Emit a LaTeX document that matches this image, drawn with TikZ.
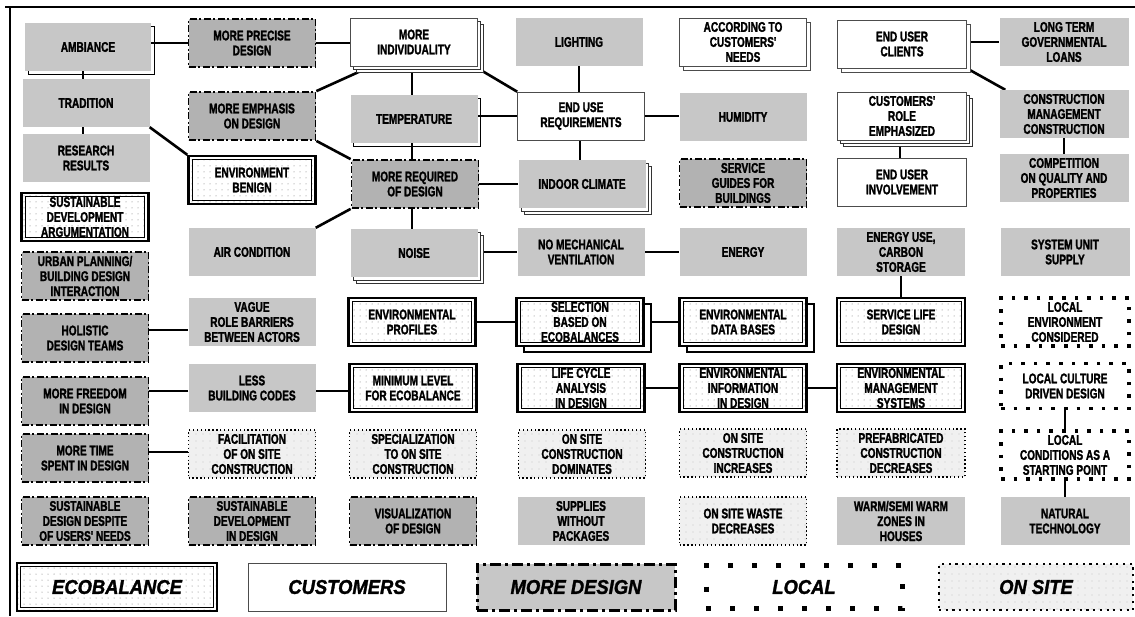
\documentclass[tikz,border=0pt]{standalone}
\usepackage{fontspec}
\setmainfont{Liberation Sans}
\newfontfamily\boxfont{Liberation Sans}[FakeStretch=0.72, BoldFeatures={FakeBold=1.6}]
\newfontfamily\keyfont{Liberation Sans}[FakeStretch=0.92, BoldItalicFeatures={FakeBold=1.5}]
\usetikzlibrary{patterns.meta,shadows,backgrounds}

\tikzset{
  base/.style={minimum width=127pt, minimum height=48pt, inner sep=1pt, align=center,
    font=\boxfont\bfseries\fontsize{14}{15}\selectfont},
  % plain stippled box
  gbox/.style={base, fill=black!22},
  % ecobalance: heavy double frame, dotted ground
  ebox/.style={base, draw=black, line width=2.4pt, fill=white,
    path picture={
      \fill[pattern={Dots[distance=6pt,radius=0.5pt]}, pattern color=black!55]
        (path picture bounding box.south west) rectangle (path picture bounding box.north east);
      \draw[line width=0.9pt, solid]
        ([shift={(3.6pt,-3.6pt)}]path picture bounding box.north west) rectangle
        ([shift={(-3.6pt,3.6pt)}]path picture bounding box.south east);}},
  % customers: thin frame on white
  cbox/.style={base, draw=black!70, line width=0.6pt, fill=white},
  % more design: dash-dot frame on grey
  dbox/.style={base, draw=black, line width=1.8pt,
    dash pattern=on 7pt off 2.5pt on 2pt off 2.5pt, fill=black!30},
  % local: square dots on white
  lbox/.style={base, draw=black, line width=3.6pt, dash pattern=on 3.6pt off 9pt, fill=white},
  % on site: fine dotted frame, dotted ground
  obox/.style={base, draw=black, line width=1.3pt, dash pattern=on 1.3pt off 2.6pt, fill=black!6,
    path picture={
      \fill[pattern={Dots[distance=7pt,radius=0.45pt]}, pattern color=black!50]
        (path picture bounding box.south west) rectangle (path picture bounding box.north east);}},
  lineshadow/.style={copy shadow={shadow xshift=3pt, shadow yshift=-3pt, draw=black, fill=none,
    line width=0.8pt, solid}},
  stackone/.style={copy shadow={shadow xshift=4pt, shadow yshift=-4pt, draw=black!70, fill=white,
    line width=0.6pt, solid}},
  stacktwo/.style={
    copy shadow={shadow xshift=6pt, shadow yshift=-6pt, draw=black!80, fill=white, line width=0.6pt, solid},
    copy shadow={shadow xshift=3pt, shadow yshift=-3pt, draw=black!80, fill=white, line width=0.6pt, solid}},
  ebstack/.style={copy shadow={shadow xshift=7pt, shadow yshift=-6pt, draw=black, fill=white,
    line width=2pt, solid}},
  key/.style={font=\keyfont\bfseries\itshape\fontsize{20}{24}\selectfont},
  link/.style={line width=2.6pt},
  frame/.style={line width=2pt}
}

\begin{document}
\begin{tikzpicture}[x=1pt, y=-1pt]
\useasboundingbox (0,0) rectangle (1135,616);

% column 1
\node[gbox, lineshadow, minimum width=126pt] (amb) at (88,47) {AMBIANCE};
\node[gbox] (trad) at (86,103) {TRADITION};
\node[gbox] (res) at (86,158) {RESEARCH\\RESULTS};
\node[ebox] (sda) at (85,217) {SUSTAINABLE\\DEVELOPMENT\\ARGUMENTATION};
\node[dbox] (urb) at (85,276) {URBAN PLANNING/\\BUILDING DESIGN\\INTERACTION};
\node[dbox] (hol) at (85,338) {HOLISTIC\\DESIGN TEAMS};
\node[dbox] (free) at (85,401) {MORE FREEDOM\\IN DESIGN};
\node[dbox] (time) at (85,458) {MORE TIME\\SPENT IN DESIGN};
\node[dbox] (desp) at (85,521) {SUSTAINABLE\\DESIGN DESPITE\\OF USERS' NEEDS};

% column 2
\node[dbox] (prec) at (252,43) {MORE PRECISE\\DESIGN};
\node[dbox] (emph) at (252,116) {MORE EMPHASIS\\ON DESIGN};
\node[ebox] (benign) at (252,180) {ENVIRONMENT\\BENIGN};
\node[gbox] (air) at (252,252) {AIR CONDITION};
\node[gbox] (vague) at (252,322) {VAGUE\\ROLE BARRIERS\\BETWEEN ACTORS};
\node[gbox] (less) at (252,388) {LESS\\BUILDING CODES};
\node[obox] (facil) at (252,454) {FACILITATION\\OF ON SITE\\CONSTRUCTION};
\node[dbox] (sdd) at (252,521) {SUSTAINABLE\\DEVELOPMENT\\IN DESIGN};

% column 3
\node[cbox, stacktwo] (ind) at (414,42) {MORE\\INDIVIDUALITY};
\node[gbox, lineshadow] (temp) at (414,119) {TEMPERATURE};
\node[dbox] (req) at (415,184) {MORE REQUIRED\\OF DESIGN};
\node[gbox, stacktwo] (noise) at (414,253) {NOISE};
\node[ebox] (prof) at (412,322) {ENVIRONMENTAL\\PROFILES};
\node[ebox] (minl) at (413,388) {MINIMUM LEVEL\\FOR ECOBALANCE};
\node[obox] (spec) at (413,454) {SPECIALIZATION\\TO ON SITE\\CONSTRUCTION};
\node[dbox] (vis) at (413,521) {VISUALIZATION\\OF DESIGN};

% column 4
\node[gbox] (light) at (579,42) {LIGHTING};
\node[cbox] (eu) at (581,116) {END USE\\REQUIREMENTS};
\node[gbox, stacktwo] (indoor) at (582,184) {INDOOR CLIMATE};
\node[gbox] (nmv) at (581,252) {NO MECHANICAL\\VENTILATION};
\node[ebox, ebstack] (sel) at (580,322) {SELECTION\\BASED ON\\ECOBALANCES};
\node[ebox] (lca) at (581,388) {LIFE CYCLE\\ANALYSIS\\IN DESIGN};
\node[obox] (dom) at (582,454) {ON SITE\\CONSTRUCTION\\DOMINATES};
\node[gbox] (sup) at (581,521) {SUPPLIES\\WITHOUT\\PACKAGES};

% column 5
\node[cbox, stackone] (acc) at (743,42) {ACCORDING TO\\CUSTOMERS'\\NEEDS};
\node[gbox] (hum) at (743,117) {HUMIDITY};
\node[dbox] (serv) at (743,183) {SERVICE\\GUIDES FOR\\BUILDINGS};
\node[gbox] (energy) at (743,252) {ENERGY};
\node[ebox, ebstack] (edb) at (743,322) {ENVIRONMENTAL\\DATA BASES};
\node[ebox] (einf) at (743,388) {ENVIRONMENTAL\\INFORMATION\\IN DESIGN};
\node[obox] (inc) at (743,453) {ON SITE\\CONSTRUCTION\\INCREASES};
\node[obox] (waste) at (743,521) {ON SITE WASTE\\DECREASES};

% column 6
\node[cbox, stackone, minimum width=129pt] (euc) at (902,44) {END USER\\CLIENTS};
\node[cbox, stacktwo, minimum width=129pt] (role) at (902,116) {CUSTOMERS'\\ROLE\\EMPHASIZED};
\node[cbox, minimum width=129pt] (inv) at (902,182) {END USER\\INVOLVEMENT};
\node[gbox, minimum width=128pt] (euse) at (901,252) {ENERGY USE,\\CARBON\\STORAGE};
\node[ebox, minimum width=128pt] (slife) at (901,322) {SERVICE LIFE\\DESIGN};
\node[ebox, minimum width=128pt] (emgmt) at (901,388) {ENVIRONMENTAL\\MANAGEMENT\\SYSTEMS};
\node[obox, minimum width=128pt] (prefab) at (901,453) {PREFABRICATED\\CONSTRUCTION\\DECREASES};
\node[gbox, minimum width=128pt] (warm) at (901,521) {WARM/SEMI WARM\\ZONES IN\\HOUSES};

% column 7
\node[gbox, minimum width=129pt] (loans) at (1064,42) {LONG TERM\\GOVERNMENTAL\\LOANS};
\node[gbox, minimum width=129pt] (cman) at (1064,114) {CONSTRUCTION\\MANAGEMENT\\CONSTRUCTION};
\node[gbox, minimum width=129pt] (comp) at (1064,178) {COMPETITION\\ON QUALITY AND\\PROPERTIES};
\node[gbox, minimum width=129pt] (sys) at (1065,252) {SYSTEM UNIT\\SUPPLY};
\node[lbox, minimum width=128pt] (lenv) at (1065,322) {LOCAL\\ENVIRONMENT\\CONSIDERED};
\node[lbox, minimum width=128pt, minimum height=45pt] (lcul) at (1065,386) {LOCAL CULTURE\\DRIVEN DESIGN};
\node[lbox, minimum width=128pt] (lcond) at (1065,455) {LOCAL\\CONDITIONS AS A\\STARTING POINT};
\node[gbox, minimum width=129pt] (nat) at (1065,521) {NATURAL\\TECHNOLOGY};

% key
\node[ebox, key, minimum width=200pt, minimum height=48pt] (kE) at (117,587) {ECOBALANCE};
\node[cbox, key, minimum width=198pt, minimum height=48pt] (kC) at (347,587) {CUSTOMERS};
\node[dbox, key, minimum width=198pt, minimum height=46pt, line width=3pt,
      dash pattern=on 11pt off 4pt on 3pt off 4pt, fill=black!22] (kD) at (576,587) {MORE DESIGN};
\node[lbox, key, minimum width=196pt, minimum height=43pt, line width=5pt,
      dash pattern=on 5pt off 19pt] (kL) at (804,587) {LOCAL};
\node[obox, key, minimum width=194pt, minimum height=46pt, line width=2.2pt,
      dash pattern=on 2.2pt off 4.5pt] (kS) at (1036,587) {ON SITE};

\begin{scope}[on background layer]
  % outer frame
  \draw[frame] (5,7) -- (1135,7);
  \draw[frame] (10,7) -- (10,616);

  % connectors
  \draw[link] (amb.east |- prec.west) -- (prec.west);
  \draw[link] (prec.east) -- (prec.east -| ind.west);
  \draw[link] ([xshift=-3pt]trad.north) -- ([xshift=-3pt]trad.north |- amb.south);
  \draw[link] ([xshift=-3pt]trad.south) -- ([xshift=-3pt]trad.south |- res.north);
  \draw[link] (trad.south east) -- (benign.north west);
  \draw[link] (emph.north east) -- ([shift={(10pt,-5pt)}]ind.south west);
  \draw[link] (emph.south east) -- (req.north west);
  \draw[link] (req.south west) -- (air.north east);
  \draw[link] ([xshift=-2pt]temp.north) -- ([xshift=-2pt]temp.north |- ind.south);
  \draw[link] ([shift={(5pt,-5pt)}]ind.south east) -- (eu.north west);
  \draw[link] (temp.east |- eu.west) -- (eu.west);
  \draw[link] ([xshift=-2pt]temp.south) -- ([xshift=-2pt]temp.south |- req.north);
  \draw[link] (req.east) -- (req.east -| indoor.west);
  \draw[link] ([xshift=-3pt]req.south) -- ([xshift=-3pt]req.south |- noise.north);
  \draw[link] (light.south) -- (light.south |- eu.north);
  \draw[link] (eu.east) -- (eu.east -| hum.west);
  \draw[link] ([xshift=-1pt]eu.south) -- ([xshift=-1pt]eu.south |- indoor.north);
  \draw[link] (noise.east |- nmv.west) -- (nmv.west);
  \draw[link] (nmv.east) -- (nmv.east -| energy.west);
  \draw[link] (euc.east |- loans.west) -- (loans.west);
  \draw[link] (euc.south east) -- ([xshift=6pt]cman.north west);
  \draw[link] ([xshift=-2pt]role.south) -- ([xshift=-2pt]role.south |- inv.north);
  \draw[link] (cman.south) -- (comp.north);
  \draw[link] ([yshift=8pt]hol.east) -- ([yshift=8pt]hol.east -| vague.west);
  \draw[link] ([yshift=-3pt]less.west) -- ([yshift=-3pt]less.west -| free.east);
  \draw[link] ([yshift=-3pt]less.east) -- ([yshift=-3pt]less.east -| minl.west);
  \draw[link] (prof.east) -- (prof.east -| sel.west);
  \draw[link] (sel.east) -- (sel.east -| edb.west);
  \draw[link] (euse.south) -- (euse.south |- slife.north);
  \draw[link] (lca.east) -- (lca.east -| einf.west);
  \draw[link] (einf.east) -- (einf.east -| emgmt.west);
  \draw[link] ([yshift=2pt]facil.west) -- ([yshift=2pt]facil.west -| time.east);
  \draw[link] (lcul.south) -- (lcond.north);
  \draw[link] (lcond.south) -- (nat.north);
\end{scope}
\end{tikzpicture}
\end{document}
